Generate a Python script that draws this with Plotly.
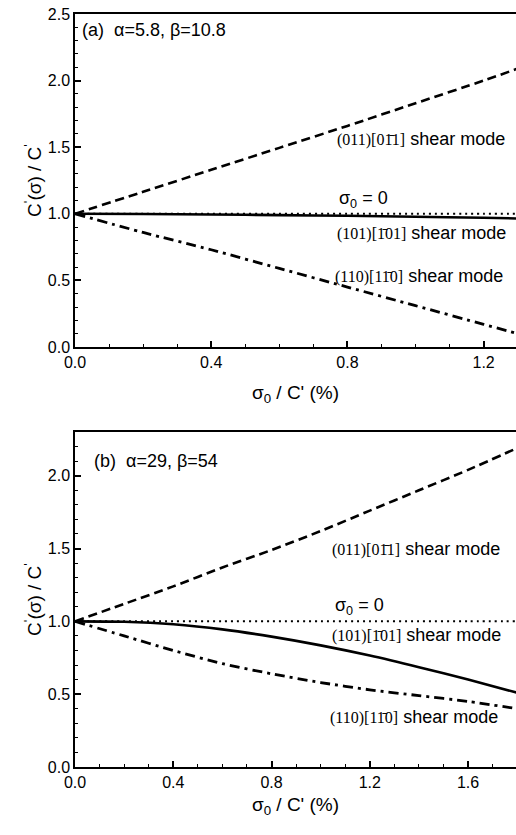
import plotly.graph_objects as go

# ---- data ----
xa = [0.0, 0.2, 0.4, 0.6, 0.8, 1.0, 1.2, 1.3]
a_011 = [1.0, 1.165, 1.33, 1.495, 1.66, 1.83, 2.0, 2.09]
a_101 = [1.0, 0.998, 0.995, 0.99, 0.985, 0.978, 0.97, 0.965]
a_110 = [1.0, 0.86, 0.73, 0.59, 0.45, 0.31, 0.17, 0.10]
a_ref = [1.0, 1.0, 1.0, 1.0, 1.0, 1.0, 1.0, 1.0]

xb = [0.0, 0.2, 0.4, 0.6, 0.8, 1.0, 1.2, 1.4, 1.6, 1.8]
b_011 = [1.0, 1.12, 1.24, 1.37, 1.49, 1.62, 1.76, 1.90, 2.04, 2.19]
b_101 = [1.0, 0.997, 0.98, 0.945, 0.895, 0.835, 0.765, 0.685, 0.60, 0.51]
b_110 = [1.0, 0.90, 0.80, 0.71, 0.64, 0.58, 0.53, 0.49, 0.45, 0.40]
b_ref = [1.0] * 10

SANS = "Liberation Sans, Arial, Helvetica, sans-serif"
SERIF = "Liberation Serif, Times New Roman, serif"

fig = go.Figure()

def add(x, y, dash, width, xa_, ya_):
    fig.add_trace(go.Scatter(x=x, y=y, mode="lines", xaxis=xa_, yaxis=ya_,
                             line=dict(color="black", width=width, dash=dash,
                                       shape="spline", smoothing=0.8),
                             showlegend=False, hoverinfo="skip"))

DASH = "9px,5px"
DASHDOT = "10px,5px,3px,5px"
DOT = "2px,4px"

add(xa, a_ref, DOT, 2, "x", "y")
add(xa, a_011, DASH, 2.6, "x", "y")
add(xa, a_101, "solid", 2.6, "x", "y")
add(xa, a_110, DASHDOT, 2.8, "x", "y")

add(xb, b_ref, DOT, 2, "x2", "y2")
add(xb, b_011, DASH, 2.6, "x2", "y2")
add(xb, b_101, "solid", 2.6, "x2", "y2")
add(xb, b_110, DASHDOT, 2.8, "x2", "y2")

tickfont = dict(family=SANS, size=16, color="black")
titlefont = dict(family=SANS, size=19, color="black")

def xaxis_cfg(rng, anchor, standoff):
    return dict(range=rng, anchor=anchor, domain=[0, 1],
                showline=True, linecolor="black", linewidth=1.5, mirror=True,
                ticks="inside", ticklen=6, tickwidth=1.5, tickcolor="black",
                dtick=0.4, tick0=0, tickformat=".1f", tickfont=tickfont,
                minor=dict(ticks="inside", ticklen=3, tickwidth=1.2, dtick=0.1,
                           tick0=0, tickcolor="black", showgrid=False),
                showgrid=False, zeroline=False,
                title=dict(text="σ<sub>0</sub> / C' (%)", font=titlefont,
                           standoff=standoff))

def yaxis_cfg(rng, anchor, domain):
    return dict(range=rng, anchor=anchor, domain=domain,
                showline=True, linecolor="black", linewidth=1.5, mirror=False,
                ticks="inside", ticklen=6, tickwidth=1.5, tickcolor="black",
                dtick=0.5, tick0=0, tickformat=".1f", tickfont=tickfont,
                minor=dict(ticks="inside", ticklen=3, tickwidth=1.2, dtick=0.1,
                           tick0=0, tickcolor="black", showgrid=False),
                showgrid=False, zeroline=False,
                title=dict(text="C<sup>'</sup>(σ) / C<sup>'</sup>", font=titlefont,
                           standoff=1))

H = 835
top, bot = 14, 68
ph = H - top - bot
dom_b = [0, (767 - 432) / ph]
dom_a = [(767 - 347) / ph, 1]

fig.update_layout(
    width=516, height=H,
    margin=dict(l=75, r=0, t=top, b=bot),
    paper_bgcolor="white", plot_bgcolor="white",
    xaxis=xaxis_cfg([0, 1.295], "y", 16),
    yaxis=yaxis_cfg([0, 2.5], "x", dom_a),
    xaxis2=xaxis_cfg([0, 1.795], "y2", 8),
    yaxis2=yaxis_cfg([0, 2.3], "x2", dom_b),
)

def miller(idx):
    return (f"<span style='font-family:{SERIF};font-size:16px'>{idx}</span>"
            f"<span style='font-family:{SANS};font-size:18px'> shear mode</span>")

O = "\u0304"
lab_011 = "(011)[01" + O + "1]"
lab_101 = "(101)[1" + O + "01]"
lab_110 = "(110)[11" + O + "0]"

anns = [
    ("x", "y", 0.015, 2.38, "(a)  α=5.8, β=10.8"),
    ("x", "y", 0.764, 1.56, miller(lab_011)),
    ("x", "y", 0.77, 1.11, "σ<sub>0</sub> = 0"),
    ("x", "y", 0.764, 0.856, miller(lab_101)),
    ("x", "y", 0.758, 0.533, miller(lab_110)),
    ("x2", "y2", 0.069, 2.10, "(b)  α=29, β=54"),
    ("x2", "y2", 1.038, 1.50, miller(lab_011)),
    ("x2", "y2", 1.05, 1.10, "σ<sub>0</sub> = 0"),
    ("x2", "y2", 1.038, 0.904, miller(lab_101)),
    ("x2", "y2", 1.03, 0.342, miller(lab_110)),
]
for xr, yr, x, y, t in anns:
    fig.add_annotation(xref=xr, yref=yr, x=x, y=y, text=t, showarrow=False,
                       xanchor="left", yanchor="middle",
                       font=dict(family=SANS, size=18, color="black"))

fig.write_html("out.html")
